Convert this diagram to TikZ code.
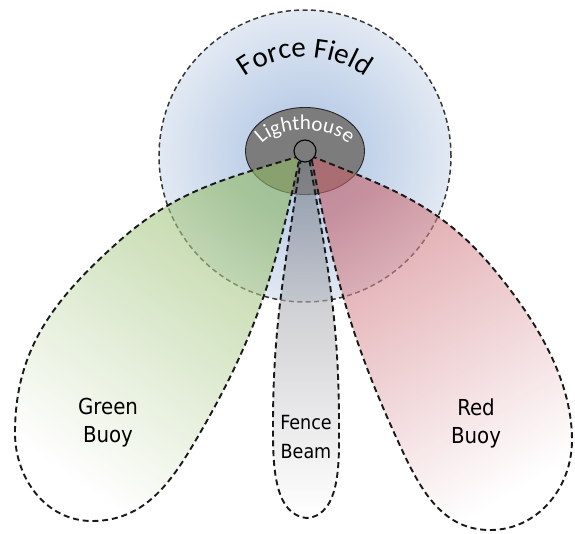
\documentclass[tikz,border=0pt]{standalone}
\usepackage{fontspec}
\newfontfamily\calib{Carlito}
\newfontfamily\labfont{DejaVu Sans Condensed}
\usetikzlibrary{decorations.text}
\definecolor{fieldin}{HTML}{A9C1E2}
\definecolor{fieldout}{HTML}{E2E9F3}
\definecolor{fieldline}{HTML}{383838}
\definecolor{lhgray}{HTML}{7C7C7C}
\definecolor{lhline}{HTML}{262626}
\definecolor{greentop}{HTML}{92BA66}
\definecolor{redtop}{HTML}{C8646C}
\definecolor{fencetop}{HTML}{7A7C84}
\begin{document}
\begin{tikzpicture}[x=1pt,y=1pt,
  lobe/.style={draw=black!90, draw opacity=1, line width=1.9pt, dash pattern=on 6pt off 3.8pt, fill opacity=0.6},
  fieldedge/.style={draw=fieldline, line width=1.5pt, dash pattern=on 5pt off 3.4pt},
  lbl/.style={font=\labfont\fontsize{22}{28}\selectfont, align=center, text=black},
  smalllbl/.style={font=\labfont\fontsize{19.5}{29}\selectfont, align=center, text=black}]
\useasboundingbox (0,0) rectangle (575,-533);
% force field
\shade[inner color=fieldin, outer color=fieldout] (305,-156) circle[radius=146];
\draw[fieldedge] (305,-156) circle[radius=146];
% lighthouse ellipse
\draw[fill=lhgray, draw=lhline, line width=0.9pt] (305,-151) ellipse[x radius=59.5, y radius=43.5];
\path[decorate, decoration={text along path, text align=center, text color=white,
   text={|\calib\fontsize{21}{22}\selectfont|Lighthouse}}]
   (305,-152) ++(175:46 and 22) arc[start angle=175, end angle=5, x radius=46, y radius=22];
% green lobe
\shade[lobe, top color=greentop, bottom color=white, shading angle=-35]
  (300,-156) to[out=197,in=42] (117,-243) to[out=222,in=90] (15,-433)
  to[out=270,in=180] (92,-521) to[out=0,in=240] (200,-433)
  to[out=60,in=258] (300,-156) -- cycle;
% red lobe
\shade[lobe, top color=redtop, bottom color=white, shading angle=31]
  (311,-156) to[out=338,in=130] (492,-267) to[out=310,in=90,looseness=0.85] (572,-440)
  to[out=270,in=0] (490,-530) to[out=180,in=295] (402,-450)
  to[out=115,in=281] (311,-156) -- cycle;
% fence beam
\shade[lobe, top color=fencetop, bottom color=white]
  (301,-158) to[out=262,in=90] (273,-425) to[out=270,in=175,looseness=0.9] (307,-518)
  to[out=5,in=270,looseness=0.9] (339,-425) to[out=90,in=280] (309,-158) -- cycle;
% lighthouse core
\draw[fill=lhgray, draw=black, line width=1.1pt] (305,-151) circle[radius=11];
% force field label
\path[decorate, decoration={text along path, text align=center,
   text={|\calib\fontsize{29}{30}\selectfont|Force Field}}]
   (305,-158) ++(130:101) arc[start angle=130, end angle=50, radius=101];
% labels
\node[lbl] (green) at (108,-423) {Green\\Buoy};
\node[lbl] (red) at (476,-423) {Red\\Buoy};
\node[smalllbl] (fence) at (306,-437) {Fence\\Beam};
\end{tikzpicture}
\end{document}
